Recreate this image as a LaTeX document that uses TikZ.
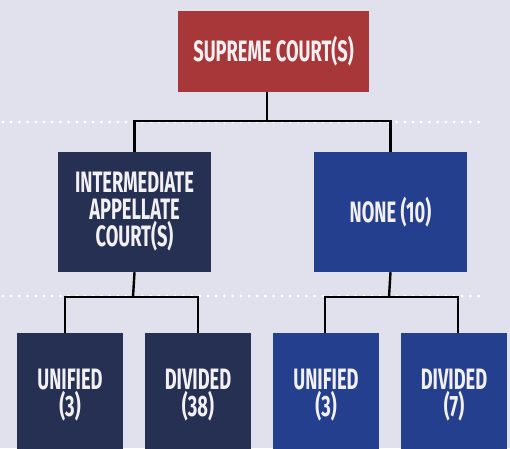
\documentclass[tikz,border=0pt]{standalone}
\usepackage{fontspec}
\newfontfamily\courtfont[FakeStretch=0.62]{Fira Sans}
\usepackage{xcolor}
\usetikzlibrary{calc}
\definecolor{bgLav}{HTML}{E1E1EE}
\definecolor{supRed}{HTML}{A8373A}
\definecolor{navyDark}{HTML}{263052}
\definecolor{navyBlue}{HTML}{243F8D}
\definecolor{txtWhite}{HTML}{F2F0F2}

\begin{document}
\begin{tikzpicture}[x=1pt,y=-1pt,
  box/.style={rectangle, inner sep=0pt, align=center, text=txtWhite,
    font=\courtfont\bfseries\fontsize{29.5}{27}\selectfont},
  midbox/.style={box, minimum width=153pt, minimum height=120pt},
  lowbox/.style={box, minimum width=106pt, minimum height=124pt},
  conn/.style={line width=2.4pt, black, line join=miter},
  dots/.style={white, line width=3pt, line cap=round, dash pattern=on 0pt off 8.2pt}]
% Page and background
\useasboundingbox (0,0) rectangle (510,448);
\clip (0,0) rectangle (510,448);
\fill[bgLav] (0,0) rectangle (510,448);
% Dotted level separators
\coordinate (sepA1) at (3,122);   \coordinate (sepA2) at (480,122);
\coordinate (sepB1) at (3,296);   \coordinate (sepB2) at (480,296);
\draw[dots] (sepA1) -- (sepA2);
\draw[dots] (sepB1) -- (sepB2);
% Top level
     \node[box, fill=supRed, minimum width=191pt, minimum height=81pt] (sup) at (273.5,51.5) {SUPREME COURT(S)};
% Middle level
     \node[midbox, fill=navyDark] (iac)  at (134.5,212) {INTERMEDIATE\\APPELLATE\\COURT(S)};
     \node[midbox, fill=navyBlue] (none) at (390.5,212) {NONE (10)};
% Bottom level
     \node[lowbox, fill=navyDark] (iacU)  at (70,395)  {UNIFIED\\(3)};
     \node[lowbox, fill=navyDark] (iacD)  at (198,395) {DIVIDED\\(38)};
     \node[lowbox, fill=navyBlue] (noneU) at (326,395) {UNIFIED\\(3)};
     \node[lowbox, fill=navyBlue] (noneD) at (454,395) {DIVIDED\\(7)};
     %
     % Connectors
     \coordinate (busA) at (267,121);
     \coordinate (busB) at (133,297);
     \coordinate (busC) at (389,297);
     \draw[conn] ($(sup.south)+(-6.5,0)$) -- (busA);
     \draw[conn] (iac.north) |- (busA) -| (none.north);
     \draw[conn] (iac.south) -- (busB);
     \draw[conn] (none.south) -- (busC);
     \draw[conn] ([xshift=-5pt]iacU.north) |- (busB) -| (iacD.north);
     \draw[conn] ([xshift=-1pt]noneU.north) |- (busC) -| ([xshift=4pt]noneD.north);
\end{tikzpicture}
\end{document}
